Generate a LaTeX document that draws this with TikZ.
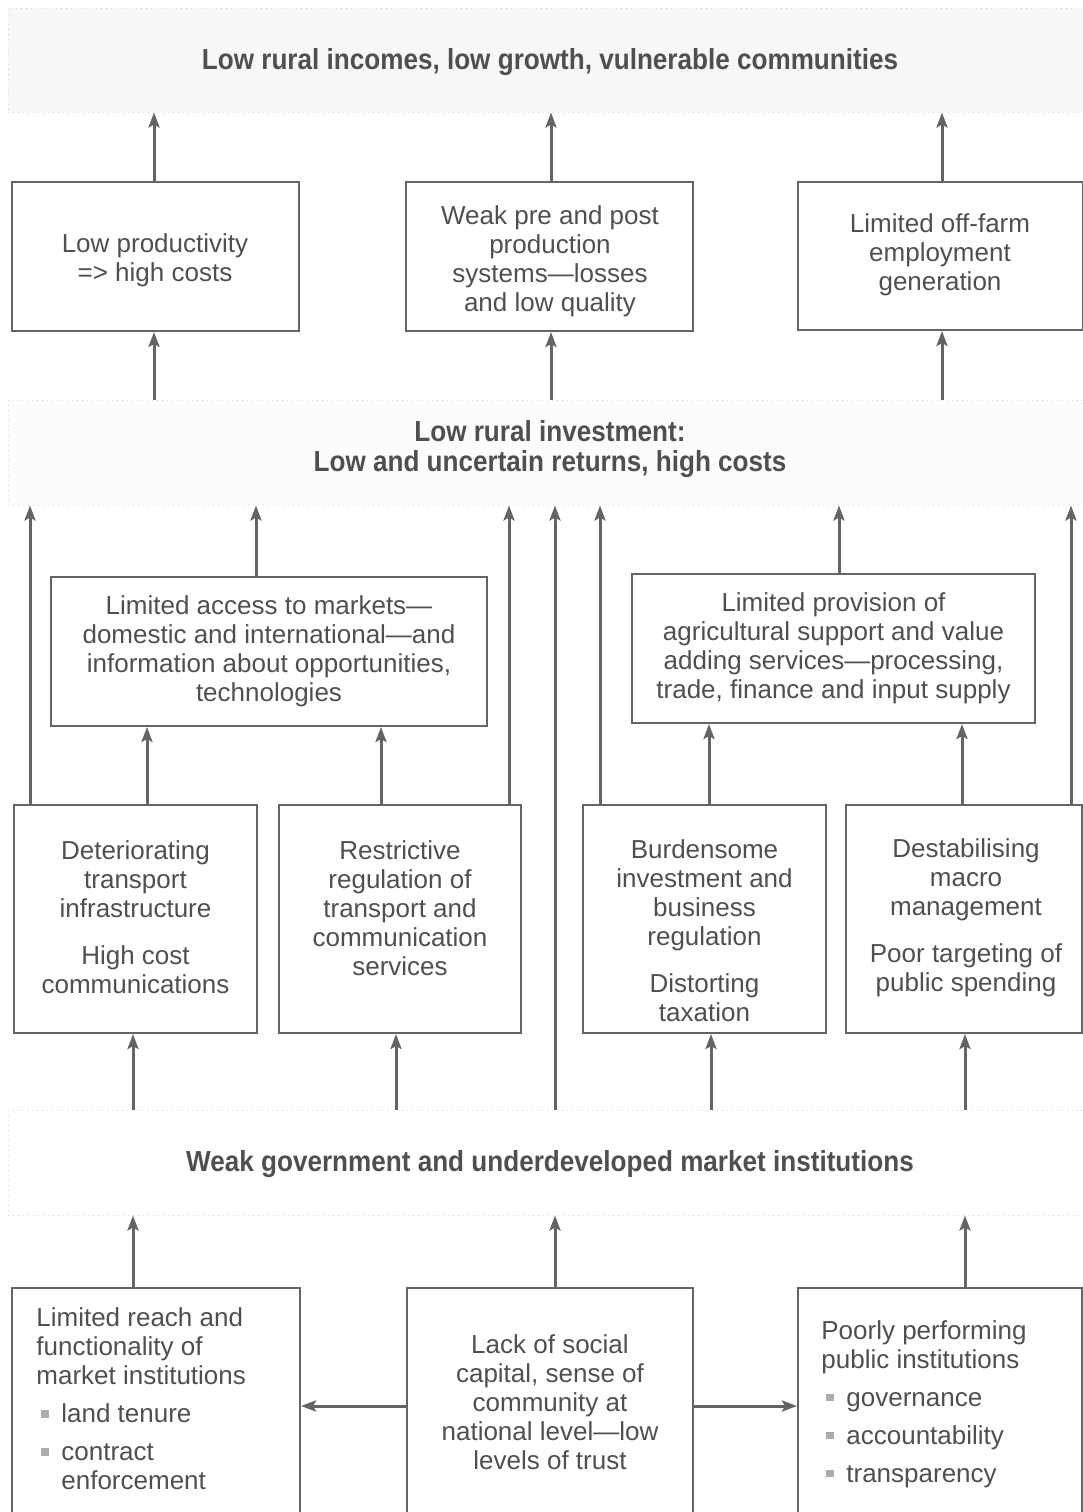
\documentclass[tikz,border=0pt]{standalone}
\usepackage{fontspec}
\setmainfont{Liberation Sans}
\newfontfamily\headfont[FakeStretch=0.9]{Liberation Sans}
\usetikzlibrary{arrows.meta}
\definecolor{ink}{HTML}{4F4F4F}
\definecolor{linec}{HTML}{646464}
\newcommand{\bul}{\textcolor{gray!65}{\rule[2.5pt]{3.8pt}{3.8pt}}}
\newcommand{\itm}{\makebox[12.5pt][l]{\hspace{2.5pt}\bul}}
\begin{document}
\begin{tikzpicture}[x=0.5pt,y=-0.5pt,
  box/.style={draw=linec, line width=1pt, inner sep=0pt},
  txt/.style={text=ink, align=center, inner sep=0pt, font=\fontsize{13}{14.5}\selectfont},
  txtl/.style={text=ink, align=left, inner sep=0pt, font=\fontsize{13}{14.5}\selectfont},
  band/.style={draw=gray!30, dotted, line width=0.5pt},
  head/.style={text=ink, align=center, inner sep=0pt, font=\headfont\bfseries\fontsize{14.5}{14.8}\selectfont},
  arr/.style={draw=linec, line width=1.5pt, -{Stealth[length=7.5pt,width=5.5pt,inset=1.5pt]}}]
\useasboundingbox (0,0) rectangle (1083,1512);
% bands
\node[band, fill=gray!6, minimum width=537.5pt, minimum height=52pt] (topband) at (545.5,60) {};
\node[band, fill=gray!2.5, minimum width=537.5pt, minimum height=52.5pt] (midband) at (545.5,452.5) {};
\node[band, minimum width=537.5pt, minimum height=52.5pt] (lowband) at (545.5,1162.5) {};
\node[head] (tTop) at (550,62) {Low rural incomes, low growth, vulnerable communities};
\node[head] (tMid) at (550,449) {Low rural investment:\\Low and uncertain returns, high costs};
\node[head] (tLow) at (550,1164) {Weak government and underdeveloped market institutions};
% top row boxes
\node[box, minimum width=143.5pt, minimum height=74.5pt] (b1) at (155.5,256.5) {};
\node[box, minimum width=143.5pt, minimum height=74.5pt] (b2) at (549.5,256.5) {};
\node[box, minimum width=142.5pt, minimum height=74pt] (b3) at (940,256) {};
\node[txt] (t1) at (155,260) {Low productivity\\ => high costs};
\node[txt] (t2) at (550,261) {Weak pre and post\\production\\systems—losses\\and low quality};
\node[txt] (t3) at (940,255) {Limited off-farm\\employment\\generation};
% middle boxes
\node[box, minimum width=218pt, minimum height=74.5pt] (ML) at (269,651.5) {};
\node[box, minimum width=201.5pt, minimum height=74.5pt] (MR) at (833.5,648.5) {};
\node[txt] (tML) at (269,651) {Limited access to markets—\\domestic and international—and\\information about opportunities,\\technologies};
\node[txt] (tMR) at (833.5,648) {Limited provision of\\agricultural support and value\\adding services—processing,\\trade, finance and input supply};
% row of four
\node[box, minimum width=121.5pt, minimum height=114pt] (A) at (135.5,919) {};
\node[box, minimum width=121pt, minimum height=114pt] (B) at (400,919) {};
\node[box, minimum width=121.5pt, minimum height=114pt] (C) at (704.5,919) {};
\node[box, minimum width=118pt, minimum height=114pt] (D) at (964,919) {};
\node[txt] (tA) at (135.5,917) {Deteriorating\\transport\\infrastructure\\[9pt]High cost\\communications};
\node[txt] (tB) at (400,908) {Restrictive\\regulation of\\transport and\\communication\\services};
\node[txt] (tC) at (704.5,931) {Burdensome\\investment and\\business\\regulation\\[9pt]Distorting\\taxation};
\node[txt] (tD) at (966,918) {Destabilising\\macro\\management\\[9pt]Poor targeting of\\public spending};
% bottom boxes
\node[box, minimum width=144pt, minimum height=121pt] (BL) at (156,1409) {};
\node[box, minimum width=143pt, minimum height=121pt] (BM) at (550,1409) {};
\node[box, minimum width=142pt, minimum height=121pt] (BR) at (940,1409) {};
\node[txtl, anchor=west] (tBL) at (36,1399) {Limited reach and\\functionality of\\market institutions\\[4.5pt]\itm land tenure\\[4.5pt]\itm contract\\\hspace*{12.5pt}enforcement};
\node[txt] (tBM) at (550,1402) {Lack of social\\capital, sense of\\community at\\national level—low\\levels of trust};
\node[txtl, anchor=west] (tBR) at (821,1404) {Poorly performing\\public institutions\\[4.5pt]\itm governance\\[4.5pt]\itm accountability\\[4.5pt]\itm transparency};
% x positions
\coordinate (x30) at (30,0);
\coordinate (x133) at (133,0);
\coordinate (x147) at (147,0);
\coordinate (x154) at (154,0);
\coordinate (x256) at (256,0);
\coordinate (x381) at (381,0);
\coordinate (x396) at (396,0);
\coordinate (x509) at (509,0);
\coordinate (x551) at (551,0);
\coordinate (x555) at (555,0);
\coordinate (x600) at (600,0);
\coordinate (x709) at (709,0);
\coordinate (x711) at (711,0);
\coordinate (x839) at (839,0);
\coordinate (x942) at (942,0);
\coordinate (x962) at (962,0);
\coordinate (x965) at (965,0);
\coordinate (x1071) at (1071,0);
% arrows top
\draw[arr] (b1.north -| x154) -- (topband.south -| x154);
\draw[arr] (b2.north -| x551) -- (topband.south -| x551);
\draw[arr] (b3.north -| x942) -- (topband.south -| x942);
\draw[arr] (midband.north -| x154) -- (b1.south -| x154);
\draw[arr] (midband.north -| x551) -- (b2.south -| x551);
\draw[arr] (midband.north -| x942) -- (b3.south -| x942);
% arrows into middle band
\draw[arr] (A.north -| x30) -- (midband.south -| x30);
\draw[arr] (ML.north -| x256) -- (midband.south -| x256);
\draw[arr] (B.north -| x509) -- (midband.south -| x509);
\draw[arr] (lowband.north -| x555) -- (midband.south -| x555);
\draw[arr] (C.north -| x600) -- (midband.south -| x600);
\draw[arr] (MR.north -| x839) -- (midband.south -| x839);
\draw[arr] (D.north -| x1071) -- (midband.south -| x1071);
% row to middle boxes
\draw[arr] (A.north -| x147) -- (ML.south -| x147);
\draw[arr] (B.north -| x381) -- (ML.south -| x381);
\draw[arr] (C.north -| x709) -- (MR.south -| x709);
\draw[arr] (D.north -| x962) -- (MR.south -| x962);
% low band to row
\draw[arr] (lowband.north -| x133) -- (A.south -| x133);
\draw[arr] (lowband.north -| x396) -- (B.south -| x396);
\draw[arr] (lowband.north -| x711) -- (C.south -| x711);
\draw[arr] (lowband.north -| x965) -- (D.south -| x965);
% bottom boxes to low band
\draw[arr] (BL.north -| x133) -- (lowband.south -| x133);
\draw[arr] (BM.north -| x555) -- (lowband.south -| x555);
\draw[arr] (BR.north -| x965) -- (lowband.south -| x965);
% horizontal
\draw[arr] ([yshift=1.5pt]BM.west) -- ([yshift=1.5pt]BL.east);
\draw[arr] ([yshift=1.5pt]BM.east) -- ([yshift=1.5pt]BR.west);
\end{tikzpicture}
\end{document}
